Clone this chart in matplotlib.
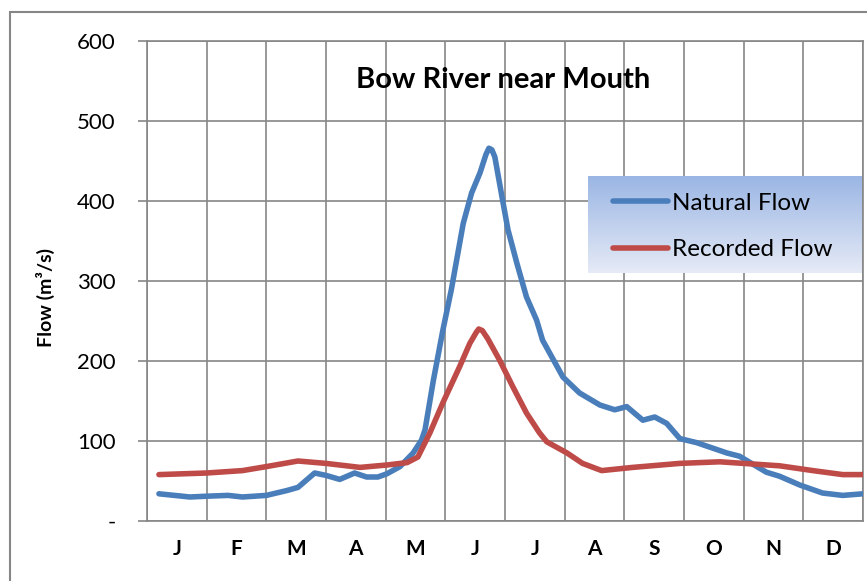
import numpy as np
import matplotlib
matplotlib.use("Agg")
import matplotlib.pyplot as plt
from matplotlib.patches import Rectangle
from matplotlib.lines import Line2D

plt.rcParams['font.family'] = ['Lato', 'DejaVu Sans']

# ----------------- data (x in months from 1 Jan) -----------------
month_labels = ["J", "F", "M", "A", "M", "J", "J", "A", "S", "O", "N", "D"]

natural_x = [0.2, 0.72, 1.0, 1.36, 1.6, 2.0, 2.34, 2.53, 2.81, 3.0, 3.23, 3.48, 3.68,
             3.87, 4.02, 4.24, 4.46, 4.6, 4.66, 4.8, 4.96, 5.1, 5.3, 5.44, 5.58, 5.68,
             5.73, 5.78, 5.83, 5.95, 6.05, 6.2, 6.36, 6.53, 6.63, 6.97, 7.25, 7.59,
             7.84, 8.04, 8.31, 8.51, 8.71, 8.93, 9.21, 9.72, 9.93, 10.38, 10.6,
             10.94, 11.32, 11.66, 12.0]
natural_y = [34, 30, 31, 32, 30, 32, 38, 42, 60, 57, 52, 60, 55,
             55, 59, 68, 85, 101, 114, 176, 239, 289, 372, 410, 435, 458,
             466, 464, 455, 405, 364, 322, 280, 251, 226, 180, 160, 145,
             139, 143, 126, 130, 122, 103, 98, 85, 81, 61, 56,
             45, 35, 32, 34]

recorded_x = [0.2, 1.0, 1.6, 2.0, 2.53, 3.0, 3.57, 4.02, 4.36, 4.54, 4.74, 4.96,
              5.24, 5.41, 5.52, 5.56, 5.62, 5.71, 5.91, 6.13, 6.36, 6.58, 6.7, 7.04,
              7.3, 7.62, 8.14, 8.93, 9.6, 10.2, 10.6, 11.16, 11.66, 12.0]
recorded_y = [58, 60, 63, 68, 75, 72, 67, 70, 73, 80, 110, 148,
              193, 222, 236, 240, 238, 228, 201, 168, 135, 110, 99, 85,
              72, 63, 67, 72, 74, 71, 69, 63, 58, 58]

y_ticks = [0, 100, 200, 300, 400, 500, 600]
y_tick_labels = ["-", "100", "200", "300", "400", "500", "600"]

# ----------------- plot -----------------
W, H = 867, 581
fig = plt.figure(figsize=(W / 100, H / 100), dpi=100)
grid_c = "#868686"
blue, red = "#4A7EBB", "#BE4B48"

# outer chart border (cut off at right/bottom like the source)
fig.patches.append(Rectangle((10 / W, -0.05), 1.2, 1 - 12 / H + 0.05,
                             transform=fig.transFigure, fill=False,
                             edgecolor=grid_c, lw=1.5))

ax = fig.add_axes([147 / W, 60 / H, 716 / W, 480 / H])

ax.plot(natural_x, natural_y, color=blue, lw=4, solid_capstyle="round",
        solid_joinstyle="round", zorder=3)
ax.plot(recorded_x, recorded_y, color=red, lw=4, solid_capstyle="round",
        solid_joinstyle="round", zorder=3)

ax.set_xticks(np.arange(13))
ax.set_xticklabels([])
ax.set_xticks(np.arange(12) + 0.5, minor=True)
ax.set_xticklabels(month_labels, minor=True, fontsize=15, fontweight="bold")
ax.tick_params(axis="x", which="both", length=0, pad=13)

ax.set_yticks(y_ticks)
ax.set_yticklabels(y_tick_labels, fontsize=16)
ax.tick_params(axis="y", length=6.5, width=1.2, color=grid_c, pad=16)

ax.grid(True, color=grid_c, lw=1.2, zorder=0)
ax.set_axisbelow(True)
for s in ax.spines.values():
    s.set_color(grid_c)
    s.set_linewidth(1.2)

ax.set_ylabel("Flow (m³/s)", fontsize=14, fontweight="bold")
ax.yaxis.set_label_coords(-0.128, 0.465)
ax.text(0.497, 0.918, "Bow River near Mouth", transform=ax.transAxes,
        ha="center", va="center", fontsize=21, fontweight="bold")

# legend with gradient background
lx0, lx1 = 0.616, 0.9986
ly0, ly1 = 0.517, 0.719
grad = np.linspace(0, 1, 64).reshape(-1, 1)
top = np.array([0.608, 0.714, 0.894])
bot = np.array([0.898, 0.918, 0.965])
img = top[None, None, :] * (1 - grad[:, :, None]) + bot[None, None, :] * grad[:, :, None]
ax.imshow(img, extent=[lx0, lx1, ly0, ly1], transform=ax.transAxes, aspect="auto",
          zorder=2, origin="upper")
ax.set_xlim(0, 12)
ax.set_ylim(0, 600)

handles = [Line2D([], [], color=blue, lw=4, solid_capstyle="round"),
           Line2D([], [], color=red, lw=4, solid_capstyle="round")]
leg = ax.legend(handles, ["Natural Flow", "Recorded Flow"], loc="upper left",
                bbox_to_anchor=(0.651, 0.684), frameon=False, fontsize=17.5,
                handlelength=2.25, handletextpad=0.17, labelspacing=1.05,
                borderaxespad=0, borderpad=0)
leg.set_zorder(4)

fig.savefig("out.png", dpi=100)
